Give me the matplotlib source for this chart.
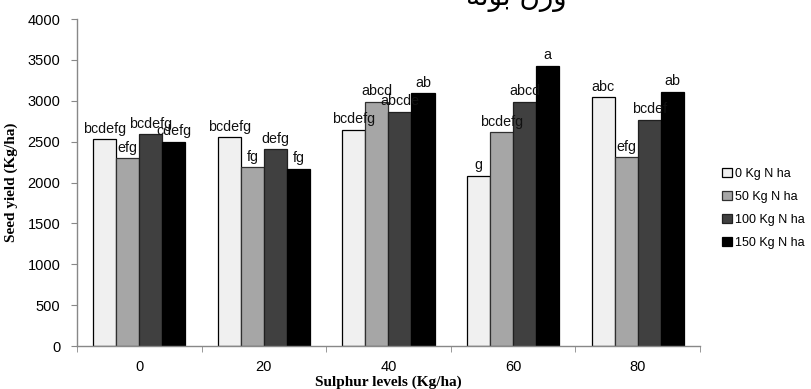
import matplotlib
matplotlib.use("Agg")
import matplotlib.pyplot as plt
import numpy as np

sulphur_levels = ["0", "20", "40", "60", "80"]
series_names = ["0 Kg N ha", "50 Kg N ha", "100 Kg N ha", "150 Kg N ha"]
yield_0n = [2528, 2552, 2642, 2083, 3042]
yield_50n = [2296, 2186, 2988, 2614, 2307]
yield_100n = [2590, 2406, 2866, 2988, 2765]
yield_150n = [2495, 2165, 3090, 3425, 3107]
letters_0n = ["bcdefg", "bcdefg", "bcdefg", "g", "abc"]
letters_50n = ["efg", "fg", "abcd", "bcdefg", "efg"]
letters_100n = ["bcdefg", "defg", "abcde", "abcd", "bcdef"]
letters_150n = ["cdefg", "fg", "ab", "a", "ab"]
y_ticks = [0, 500, 1000, 1500, 2000, 2500, 3000, 3500, 4000]

values = [yield_0n, yield_50n, yield_100n, yield_150n]
letters = [letters_0n, letters_50n, letters_100n, letters_150n]
fills = ["#f0f0f0", "#a6a6a6", "#404040", "#000000"]
edges = ["#000000", "#303030", "#202020", "#000000"]

plt.rcParams["font.family"] = ["Liberation Sans", "DejaVu Sans"]

fig = plt.figure(figsize=(8.11, 3.89), dpi=100)
ax = fig.add_axes([0.0949, 0.1105, 0.7681, 0.8405])

x = np.arange(len(sulphur_levels))
w = 0.185
for i, (vals, labs) in enumerate(zip(values, letters)):
    pos = x + (i - 1.5) * w
    ax.bar(pos, vals, width=w, color=fills[i], edgecolor=edges[i],
           linewidth=0.9, label=series_names[i], zorder=2)
    for px, v, t in zip(pos, vals, labs):
        ax.text(px, v + 45, t, ha="center", va="bottom", fontsize=10.3,
                color="#111111", zorder=3)

ax.set_xlim(-0.5, 4.5)
ax.set_ylim(0, 4000)
ax.set_yticks(y_ticks)
ax.set_xticks(x)
ax.set_xticklabels(sulphur_levels)
ax.set_xticks(np.arange(-0.5, 5.0, 1.0), minor=True)
ax.tick_params(axis="x", which="major", length=0, pad=10, labelsize=10.5)
ax.tick_params(axis="x", which="minor", length=4, color="#888888", direction="out")
ax.tick_params(axis="y", length=4, color="#888888", direction="out", labelsize=10.5, pad=8)

for s in ["top", "right"]:
    ax.spines[s].set_visible(False)
for s in ["left", "bottom"]:
    ax.spines[s].set_color("#888888")
    ax.spines[s].set_linewidth(1.0)

ax.set_ylabel("Seed yield (Kg/ha)", family="Liberation Serif", fontweight="bold",
              fontsize=11, labelpad=7)
ax.set_xlabel("Sulphur levels (Kg/ha)", family="Liberation Serif", fontweight="bold",
              fontsize=11, labelpad=1)

ax.legend(loc="center left", bbox_to_anchor=(1.0, 0.42), frameon=False,
          fontsize=9, handlelength=0.75, handleheight=0.75, handletextpad=0.25,
          labelspacing=0.88, borderaxespad=1.4)

# Persian heading, partly above the top edge of the figure
fig.text(0.637, 1.005, "\ufeea\ufe97\ufeee\ufe91 \ufee5\ufeaf\ufeed",
         ha="center", va="center", fontsize=20, family="DejaVu Sans")

fig.savefig("out.png", dpi=100)
